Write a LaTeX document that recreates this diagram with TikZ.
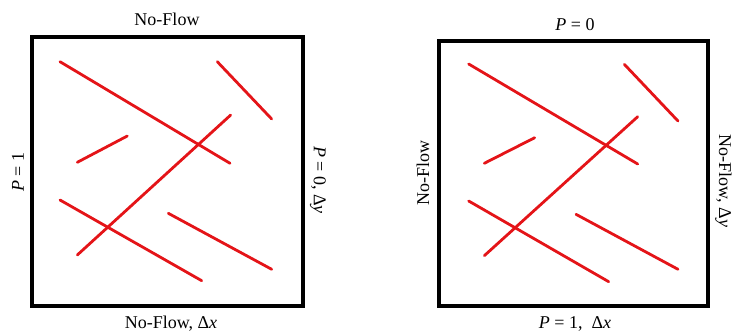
\documentclass[tikz,border=0pt]{standalone}
\usepackage{fontspec}
\setmainfont{Liberation Serif}
\begin{document}
\begin{tikzpicture}[x=1pt,y=-1pt,
  frame/.style={draw=black,line width=3.2pt},
  fracture/.style={draw={rgb,255:red,228;green,20;blue,24},line width=2.8pt,line cap=round},
  lbl/.style={font=\fontsize{18}{21}\selectfont,inner sep=0pt}]
\useasboundingbox (0,0) rectangle (734,333);
\clip (0,0) rectangle (734,333);

% left domain: flow from left to right
\draw[frame] (32,37) rectangle (303,306);
\draw[fracture] (60,61.7) -- (230,163.3);
\draw[fracture] (217.3,61.7) -- (271.7,119);
\draw[fracture] (77.3,162.3) -- (127.3,136);
\draw[fracture] (77.3,255) -- (230.7,115);
\draw[fracture] (60,200) -- (201.7,280.7);
\draw[fracture] (168.3,213.3) -- (271.7,269.3);
\node[lbl] (lt) at (167,19) {No-Flow};
\node[lbl] (lb) at (171,323.5) {No-Flow, Δ\textit{x}};
\node[lbl,rotate=90] (ll) at (18,172) {\textit{P} = 1};
\node[lbl,rotate=-90] (lr) at (318,180) {\textit{P} = 0, Δ\textit{y}};

% right domain: flow from bottom to top
\draw[frame] (439,41) rectangle (708,306);
\draw[fracture] (468.7,64) -- (637.7,164);
\draw[fracture] (624.3,64.3) -- (678,121);
\draw[fracture] (484.3,163.3) -- (534.7,137.7);
\draw[fracture] (484.3,255.7) -- (637.7,116.7);
\draw[fracture] (468.7,201) -- (608.7,281.7);
\draw[fracture] (576,214.3) -- (678,269.3);
\node[lbl] (rt) at (575,25) {\textit{P} = 0};
\node[lbl] (rb) at (575,323.5) {\textit{P} = 1,\ \ Δ\textit{x}};
\node[lbl,rotate=90] (rl) at (423,173) {No-Flow};
\node[lbl,rotate=-90] (rr) at (723.5,181) {No-Flow, Δ\textit{y}};
\end{tikzpicture}
\end{document}
